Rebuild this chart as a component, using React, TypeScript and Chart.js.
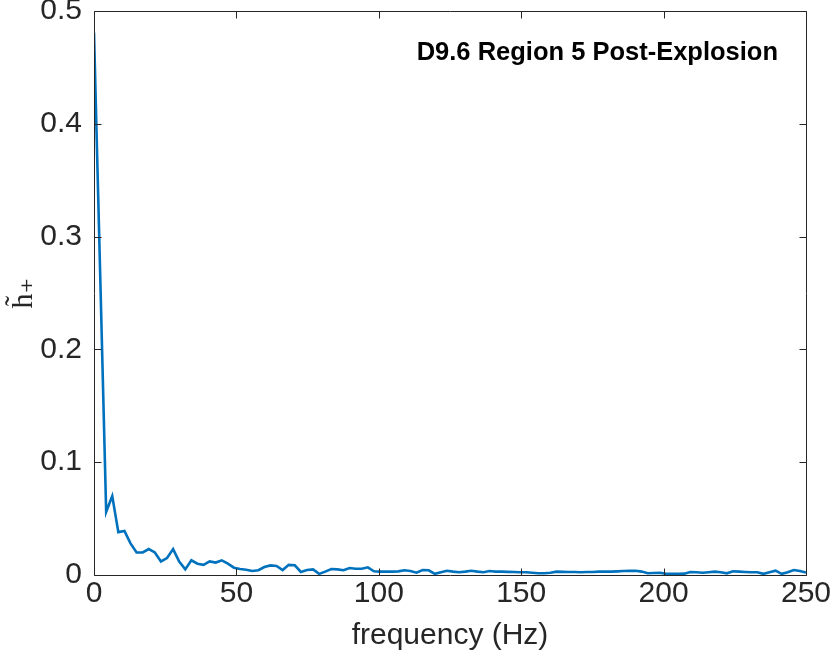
import React, { useEffect, useRef } from "react";
import { Chart, registerables } from "chart.js";

Chart.register(...registerables);

const FREQ_STEP = 250 / 117;
const amplitude: number[] = [
  0.481, 0.27, 0.056, 0.07, 0.038, 0.039, 0.028, 0.02, 0.02, 0.023,
  0.02, 0.012, 0.015, 0.023, 0.012, 0.005, 0.013, 0.01, 0.009, 0.012,
  0.011, 0.013, 0.01, 0.0065, 0.0053, 0.0047, 0.0035, 0.0042, 0.0071, 0.0085,
  0.008, 0.0044, 0.009, 0.0086, 0.0027, 0.0044, 0.005, 0.001, 0.003, 0.0053,
  0.005, 0.0042, 0.0062, 0.0056, 0.0056, 0.0068, 0.0033, 0.003, 0.003, 0.003,
  0.0032, 0.0042, 0.0035, 0.002, 0.0044, 0.0042, 0.001, 0.0025, 0.0038, 0.003,
  0.0024, 0.003, 0.0038, 0.003, 0.0024, 0.0035, 0.003, 0.003, 0.0028, 0.0026,
  0.0024, 0.0024, 0.002, 0.0015, 0.0015, 0.002, 0.003, 0.0028, 0.0027, 0.0027,
  0.0025, 0.0027, 0.0027, 0.003, 0.003, 0.003, 0.0032, 0.0035, 0.0037, 0.0038,
  0.003, 0.0015, 0.0018, 0.002, 0.001, 0.001, 0.001, 0.0012, 0.0027, 0.0025,
  0.002, 0.0025, 0.003, 0.0025, 0.0015, 0.0033, 0.003, 0.0027, 0.0024, 0.0024,
  0.001, 0.0025, 0.0038, 0.001, 0.0025, 0.0044, 0.0035, 0.0022,
];
const frequencies: number[] = amplitude.map((_, i) => i * FREQ_STEP);
const xTicks: number[] = [0, 50, 100, 150, 200, 250];
const yTicks: number[] = [0, 0.1, 0.2, 0.3, 0.4, 0.5];
const annotationText = "D9.6 Region 5 Post-Explosion";
const xTitle = "frequency (Hz)";
const yTitle = "h\u0303\u208A";

const FONT = "'Liberation Sans', Arial, Helvetica, sans-serif";

const boxPlugin = {
  id: "matlabBox",
  afterDatasetsDraw(chart: any) {
    const { ctx, chartArea } = chart;
    const { left, right, top, bottom } = chartArea;
    const xs = chart.scales.x;
    const ys = chart.scales.y;
    ctx.save();
    ctx.strokeStyle = "#262626";
    ctx.lineWidth = 1;
    ctx.beginPath();
    const L = Math.round(left) + 0.5;
    const R = Math.round(right) + 0.5;
    const T = Math.round(top) + 0.5;
    const B = Math.round(bottom) + 0.5;
    ctx.rect(L, T, R - L, B - T);
    const tl = 7;
    for (const v of xTicks) {
      const px = Math.round(xs.getPixelForValue(v)) + 0.5;
      ctx.moveTo(px, B);
      ctx.lineTo(px, B - tl);
      ctx.moveTo(px, T);
      ctx.lineTo(px, T + tl);
    }
    for (const v of yTicks) {
      const py = Math.round(ys.getPixelForValue(v)) + 0.5;
      ctx.moveTo(L, py);
      ctx.lineTo(L + tl, py);
      ctx.moveTo(R, py);
      ctx.lineTo(R - tl, py);
    }
    ctx.stroke();
    ctx.fillStyle = "#000000";
    ctx.font = "bold 25.5px " + FONT;
    ctx.textAlign = "right";
    ctx.textBaseline = "middle";
    ctx.fillText(annotationText, 778, 53);
    ctx.restore();
  },
};

export default function App() {
  const ref = useRef<HTMLCanvasElement | null>(null);
  useEffect(() => {
    if (!ref.current) return;
    const chart = new Chart(ref.current, {
      type: "line",
      data: {
        labels: frequencies,
        datasets: [
          {
            data: frequencies.map((f, i) => ({ x: f, y: amplitude[i] })),
            borderColor: "#0072BD",
            borderWidth: 2.6,
            pointRadius: 0,
            tension: 0,
            fill: false,
          },
        ],
      },
      options: {
        responsive: false,
        animation: false,
        events: [],
        layout: { padding: { left: 0, right: 24, top: 11, bottom: 0 } },
        plugins: { legend: { display: false }, tooltip: { enabled: false } },
        scales: {
          x: {
            type: "linear",
            min: 0,
            max: 250,
            afterBuildTicks: (s: any) => {
              s.ticks = xTicks.map((v) => ({ value: v }));
            },
            afterFit: (s: any) => {
              s.height = 83;
              s.paddingLeft = 0;
              s.paddingRight = 0;
            },
            grid: { display: false, drawTicks: false },
            border: { display: false },
            ticks: {
              padding: 1,
              color: "#262626",
              font: { family: FONT, size: 30 },
              maxRotation: 0,
            },
            title: {
              display: true,
              text: xTitle,
              color: "#262626",
              font: { family: FONT, size: 30 },
              padding: { top: 0, bottom: 4 },
            },
          },
          y: {
            type: "linear",
            min: 0,
            max: 0.5,
            afterBuildTicks: (s: any) => {
              s.ticks = yTicks.map((v) => ({ value: v }));
            },
            afterFit: (s: any) => {
              s.width = 94;
              s.paddingTop = 0;
              s.paddingBottom = 0;
            },
            grid: { display: false, drawTicks: false },
            border: { display: false },
            ticks: {
              padding: 12,
              color: "#262626",
              font: { family: FONT, size: 30 },
              callback: (v: any) => String(Number(v)),
            },
            title: {
              display: true,
              text: yTitle,
              color: "#262626",
              font: { family: "'Liberation Serif', 'DejaVu Serif', serif", size: 30 },
              padding: { top: 6, bottom: 0 },
            },
          },
        },
      },
      plugins: [boxPlugin],
    });
    return () => chart.destroy();
  }, []);
  return (
    <div style={{ position: "fixed", left: 0, top: 0, width: 830, height: 658, background: "#fff" }}>
      <canvas ref={ref} width={830} height={658} style={{ display: "block" }} />
    </div>
  );
}
